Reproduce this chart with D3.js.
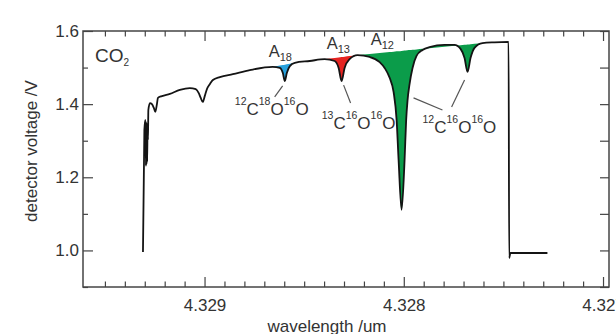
<!DOCTYPE html>
<html>
<head>
<meta charset="utf-8">
<script src="https://cdn.jsdelivr.net/npm/d3@7"></script>
<style>
  body { margin: 0; background: #fff; }
  text { font-family: "Liberation Sans", Arial, sans-serif; fill: #333; }
</style>
</head>
<body>
<div id="canvas"></div>
<script>
// --- data (wavelength in um, detector voltage in V)
var wavelength = [4.329309, 4.329302, 4.329297, 4.329294, 4.329293, 4.329291, 4.329289, 4.329288,
  4.329286, 4.329284, 4.329282, 4.329274, 4.329264, 4.329254, 4.329247, 4.329239, 4.329234,
  4.329214, 4.329174, 4.329124, 4.329074, 4.329044, 4.329029, 4.329019, 4.329009, 4.328999,
  4.328988, 4.328973, 4.328958, 4.328923, 4.328858, 4.328773, 4.328658, 4.328622, 4.328607,
  4.328597, 4.328587, 4.328572, 4.328547, 4.328472, 4.328397, 4.328347, 4.328327, 4.328312,
  4.328297, 4.328272, 4.328232, 4.328171, 4.328121, 4.328096, 4.328071, 4.328051, 4.328036,
  4.328026, 4.328011, 4.327996, 4.327988, 4.327981, 4.327971, 4.327956, 4.327936, 4.327906,
  4.327871, 4.327796, 4.327746, 4.327715, 4.327695, 4.327680, 4.327665, 4.327645, 4.327605,
  4.327545, 4.327474, 4.327471, 4.327465, 4.327279];
var voltage = [0.996, 1.329, 1.357, 1.231, 1.351, 1.236, 1.346, 1.242,
  1.340, 1.302, 1.384, 1.403, 1.400, 1.389, 1.379, 1.400, 1.417,
  1.422, 1.428, 1.439, 1.444, 1.441, 1.430, 1.417, 1.406, 1.422,
  1.441, 1.455, 1.466, 1.474, 1.482, 1.493, 1.502, 1.499, 1.485,
  1.463, 1.485, 1.504, 1.513, 1.518, 1.523, 1.518, 1.499, 1.463,
  1.499, 1.523, 1.534, 1.529, 1.515, 1.499, 1.472, 1.433, 1.357,
  1.247, 1.111, 1.247, 1.357, 1.411, 1.455, 1.499, 1.532, 1.548,
  1.556, 1.562, 1.562, 1.551, 1.526, 1.488, 1.526, 1.554, 1.567,
  1.569, 1.570, 0.979, 0.993, 0.993];

// integrated line areas: [from, to] wavelength
var areaA18 = [4.328658, 4.328547];
var areaA13 = [4.328397, 4.328232];
var areaA12 = [4.328232, 4.327605];

var xMajor = [4.329, 4.328, 4.327];
var xMinor = [4.3295, 4.3294, 4.3293, 4.3292, 4.3291, 4.3289, 4.3288, 4.3287, 4.3286, 4.3285,
  4.3284, 4.3283, 4.3282, 4.3281, 4.3279, 4.3278, 4.3277, 4.3276, 4.3275, 4.3274,
  4.3273, 4.3272, 4.3271];
var yMajor = [1.0, 1.2, 1.4, 1.6];
var yMinor = [0.9, 1.1, 1.3, 1.5];

// label anchors [wavelength, voltage]
var labA = [{at:[4.328678, 1.529], t:'A', s:'18'},
            {at:[4.328387, 1.551], t:'A', s:'13'},
            {at:[4.328166, 1.562], t:'A', s:'12'}];
var labIso = [{at:[4.328848, 1.370], p:['12','C','18','O','16','O']},
              {at:[4.328412, 1.332], p:['13','C','16','O','16','O']},
              {at:[4.327906, 1.321], p:['12','C','16','O','16','O']}];
var leaders = [[[4.328608, 1.450], [4.328648, 1.420]],
               [[4.328302, 1.452], [4.328267, 1.403]],
               [[4.327951, 1.417], [4.327806, 1.384]],
               [[4.327695, 1.466], [4.327760, 1.392]]];

// --- Margin convention
var M = {top:31, right:7, bottom:47, left:83};
var outerWidth = 616, outerHeight = 334;
var w = outerWidth - M.left - M.right,
    h = outerHeight - M.top - M.bottom;

var svg = d3.select('#canvas')
  .append('svg')
  .attr('width', outerWidth)
  .attr('height', outerHeight);

var plot = svg.append('g')
  .attr('transform', 'translate(' + M.left + ',' + M.top + ')');

// --- scales
var x = d3.scaleLinear().domain([4.32961, 4.32697]).range([0, w]);
var y = d3.scaleLinear().domain([0.9, 1.6]).range([h, 0]);

var spectrum = d3.zip(wavelength, voltage);

// --- filled areas between straight baseline and the curve
function fillArea(range, col) {
  var pts = spectrum.filter(function(d){ return d[0] <= range[0] && d[0] >= range[1]; });
  var a = pts[0], b = pts[pts.length - 1];
  var area = d3.area()
    .x(function(d){ return x(d[0]); })
    .y0(function(d){ return y(a[1] + (b[1] - a[1]) * (d[0] - a[0]) / (b[0] - a[0])); })
    .y1(function(d){ return y(d[1]); })
    .curve(d3.curveMonotoneX);
  plot.append('path')
    .attr('d', area(pts))
    .attr('fill', col)
    .attr('stroke', 'none');
}
fillArea(areaA18, '#26a0dc');
fillArea(areaA13, '#e52421');
fillArea(areaA12, '#0b9c4a');

// --- spectrum line
var line = d3.line()
  .x(function(d){ return x(d[0]); })
  .y(function(d){ return y(d[1]); })
  .curve(d3.curveMonotoneX);

plot.append('path')
  .attr('d', line(spectrum))
  .attr('fill', 'none')
  .attr('stroke', '#141414')
  .attr('stroke-width', 1.8)
  .attr('stroke-linejoin', 'round');

// --- axes (ticks inside on all four sides)
function styleAxis(g) {
  g.select('.domain').remove();
  g.selectAll('line').attr('stroke', '#444').attr('stroke-width', 1.2);
  g.selectAll('text').attr('font-size', '17px').attr('fill', '#333')
    .attr('font-family', '"Liberation Sans", Arial, sans-serif');
}

plot.append('g')
  .call(d3.axisLeft(y).tickValues(yMajor).tickSize(-10).tickPadding(4).tickFormat(d3.format('.1f')))
  .call(styleAxis);
plot.append('g')
  .call(d3.axisLeft(y).tickValues(yMinor).tickSize(-5).tickFormat(''))
  .call(styleAxis);
plot.append('g')
  .attr('transform', 'translate(' + w + ',0)')
  .call(d3.axisRight(y).tickValues(yMajor.concat(yMinor)).tickSize(-9).tickFormat(''))
  .call(styleAxis);

plot.append('g')
  .attr('transform', 'translate(0,' + h + ')')
  .call(d3.axisBottom(x).tickValues(xMajor).tickSize(-10).tickPadding(12).tickFormat(d3.format('.3f')))
  .call(styleAxis);
plot.append('g')
  .attr('transform', 'translate(0,' + h + ')')
  .call(d3.axisBottom(x).tickValues(xMinor).tickSize(-5.5).tickFormat(''))
  .call(styleAxis);
plot.append('g')
  .call(d3.axisTop(x).tickValues(xMajor).tickSize(-10).tickFormat(''))
  .call(styleAxis);
plot.append('g')
  .call(d3.axisTop(x).tickValues(xMinor).tickSize(-5.5).tickFormat(''))
  .call(styleAxis);

// frame
plot.append('rect')
  .attr('width', w).attr('height', h)
  .attr('fill', 'none')
  .attr('stroke', '#444')
  .attr('stroke-width', 1.5);

// --- axis titles
svg.append('text')
  .attr('transform', 'translate(37,151) rotate(-90)')
  .attr('text-anchor', 'middle')
  .attr('font-size', '17px')
  .text('detector voltage /V');

svg.append('text')
  .attr('x', 327).attr('y', 332)
  .attr('text-anchor', 'middle')
  .attr('font-size', '17px')
  .text('wavelength /um');

// --- CO2 tag
var co2 = plot.append('text').attr('x', 12).attr('y', 31).attr('font-size', '19px');
co2.append('tspan').text('CO');
co2.append('tspan').attr('font-size', '10px').attr('dy', 4).text('2');

// --- leader lines
plot.selectAll('.leader')
  .data(leaders)
  .enter()
  .append('line')
  .attr('x1', function(d){ return x(d[0][0]); })
  .attr('y1', function(d){ return y(d[0][1]); })
  .attr('x2', function(d){ return x(d[1][0]); })
  .attr('y2', function(d){ return y(d[1][1]); })
  .attr('stroke', '#555')
  .attr('stroke-width', 1.2);

// --- A labels
labA.forEach(function(d){
  var t = plot.append('text')
    .attr('x', x(d.at[0])).attr('y', y(d.at[1]))
    .attr('font-size', '16.5px');
  t.append('tspan').text(d.t);
  t.append('tspan').attr('font-size', '11px').attr('dy', 4).text(d.s);
});

// --- isotopologue labels: superscript mass numbers
labIso.forEach(function(d){
  var t = plot.append('text')
    .attr('x', x(d.at[0])).attr('y', y(d.at[1]))
    .attr('font-size', '17px');
  d.p.forEach(function(s, i){
    var sup = (i % 2 === 0);
    t.append('tspan')
      .attr('font-size', sup ? '10.5px' : '17px')
      .attr('dy', sup ? (i === 0 ? -10 : -10) : 10)
      .text(s);
  });
});
</script>
</body>
</html>
